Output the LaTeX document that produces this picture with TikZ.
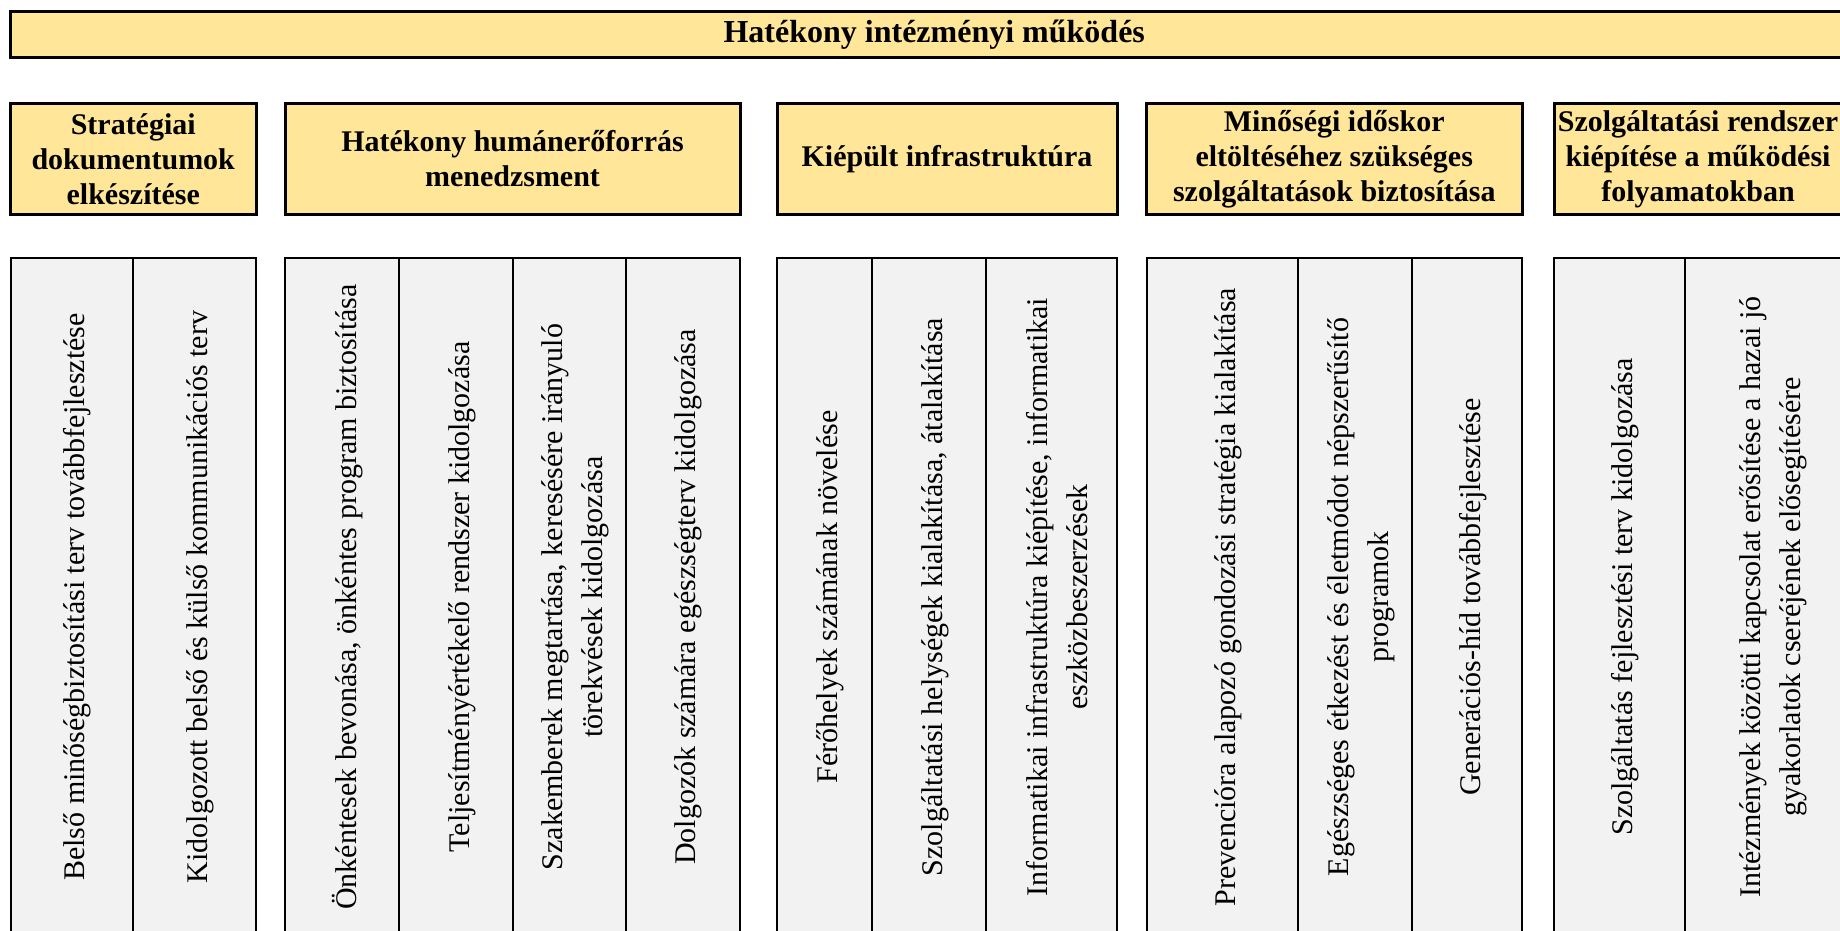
\documentclass[tikz,border=0pt]{standalone}
\usepackage{fontspec}
\setmainfont{Liberation Serif}
\definecolor{hdr}{HTML}{FFE699}
\definecolor{cellfill}{HTML}{F2F2F2}
\newcommand{\mycell}[4]{%
  \node[cellbox, minimum width=#3pt] (#1) at (#2,597) {};
  \node[celltext] (#1t) at ([xshift=6pt]#1.center) {#4};}
\begin{document}
\begin{tikzpicture}[x=1pt,y=-1pt,
  hbox/.style={draw=black, line width=3pt, fill=hdr, inner sep=0pt, align=center,
    font=\fontsize{30}{35}\selectfont\bfseries},
  cellbox/.style={draw=black, line width=2pt, fill=cellfill, inner sep=0pt, minimum height=678pt},
  celltext/.style={rotate=90, inner sep=0pt, align=center, font=\fontsize{30}{40}\selectfont}]
\clip (0,0) rectangle (1840,931);
\fill[white] (0,0) rectangle (1840,931);
% title
\node[hbox, minimum width=1847.5pt, minimum height=46pt, font=\fontsize{32}{36}\selectfont\bfseries] (top) at (934.25,35) {Hatékony intézményi működés};
% categories
\node[hbox, minimum width=245.5pt, minimum height=110pt] (k1) at (133.25,159) {Stratégiai\\dokumentumok\\elkészítése};
\node[hbox, minimum width=455pt, minimum height=110pt] (k2) at (512.5,159) {Hatékony humánerőforrás\\menedzsment};
\node[hbox, minimum width=340pt, minimum height=110pt] (k3) at (947,159) {Kiépült infrastruktúra};
\node[hbox, minimum width=375.5pt, minimum height=110pt] (k4) at (1334.25,159) {Minőségi időskor\\eltöltéséhez szükséges\\szolgáltatások biztosítása};
\node[hbox, minimum width=288pt, minimum height=110pt] (k5) at (1698,159) {Szolgáltatási rendszer\\kiépítése a működési\\folyamatokban};
% group 1
\mycell{c11}{71.55}{122.1}{Belső minőségbiztosítási terv továbbfejlesztése}
\mycell{c12}{194.3}{123.4}{Kidolgozott belső és külső kommunikációs terv}
% group 2
\mycell{c21}{342}{114}{Önkéntesek bevonása, önkéntes program biztosítása}
\mycell{c22}{456}{114}{Teljesítményértékelő rendszer kidolgozása}
\mycell{c23}{569.25}{112.5}{Szakemberek megtartása, keresésére irányuló\\törekvések kidolgozása}
\mycell{c24}{682.75}{114.5}{Dolgozók számára egészségterv kidolgozása}
% group 3
\mycell{c31}{824.5}{95}{Férőhelyek számának növelése}
\mycell{c32}{929}{114}{Szolgáltatási helységek kialakítása, átalakítása}
\mycell{c33}{1051.5}{131}{Informatikai infrastruktúra kiépítése, informatikai\\eszközbeszerzések}
% group 4
\mycell{c41}{1222.25}{151.5}{Prevencióra alapozó gondozási stratégia kialakítása}
\mycell{c42}{1354.85}{113.7}{Egészséges étkezést és életmódot népszerűsítő\\programok}
\mycell{c43}{1466.85}{110.3}{Generációs-híd továbbfejlesztése}
% group 5
\mycell{c51}{1619.5}{131}{Szolgáltatás fejlesztési terv kidolgozása}
\mycell{c52}{1767.5}{165}{Intézmények közötti kapcsolat erősítése a hazai jó\\gyakorlatok cseréjének elősegítésére}
\end{tikzpicture}
\end{document}
